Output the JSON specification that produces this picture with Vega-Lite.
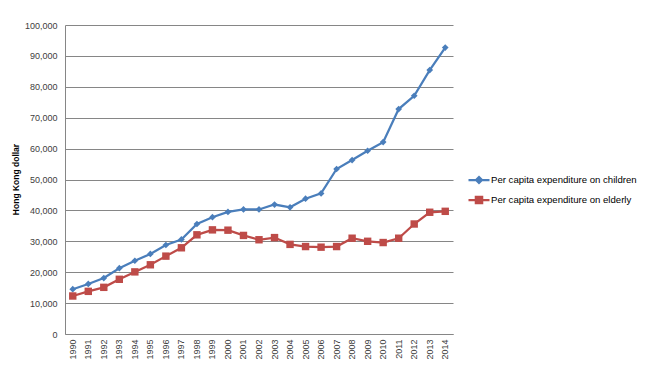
{
  "$schema": "https://vega.github.io/schema/vega-lite/v6.json",
  "autosize": "none",
  "width": 388,
  "height": 309,
  "padding": {"left": 65, "top": 25, "right": 197, "bottom": 53},
  "background": "white",
  "config": {
    "view": {"stroke": null},
    "font": "Liberation Sans"
  },
  "data": {
    "values": [
      {"year": "1990", "series": "Per capita expenditure on children", "value": 14500},
      {"year": "1991", "series": "Per capita expenditure on children", "value": 16200},
      {"year": "1992", "series": "Per capita expenditure on children", "value": 18100},
      {"year": "1993", "series": "Per capita expenditure on children", "value": 21300},
      {"year": "1994", "series": "Per capita expenditure on children", "value": 23700},
      {"year": "1995", "series": "Per capita expenditure on children", "value": 25900},
      {"year": "1996", "series": "Per capita expenditure on children", "value": 28800},
      {"year": "1997", "series": "Per capita expenditure on children", "value": 30600},
      {"year": "1998", "series": "Per capita expenditure on children", "value": 35600},
      {"year": "1999", "series": "Per capita expenditure on children", "value": 37800},
      {"year": "2000", "series": "Per capita expenditure on children", "value": 39500},
      {"year": "2001", "series": "Per capita expenditure on children", "value": 40300},
      {"year": "2002", "series": "Per capita expenditure on children", "value": 40300},
      {"year": "2003", "series": "Per capita expenditure on children", "value": 41900},
      {"year": "2004", "series": "Per capita expenditure on children", "value": 41000},
      {"year": "2005", "series": "Per capita expenditure on children", "value": 43800},
      {"year": "2006", "series": "Per capita expenditure on children", "value": 45500},
      {"year": "2007", "series": "Per capita expenditure on children", "value": 53400},
      {"year": "2008", "series": "Per capita expenditure on children", "value": 56300},
      {"year": "2009", "series": "Per capita expenditure on children", "value": 59300},
      {"year": "2010", "series": "Per capita expenditure on children", "value": 62100},
      {"year": "2011", "series": "Per capita expenditure on children", "value": 72800},
      {"year": "2012", "series": "Per capita expenditure on children", "value": 77100},
      {"year": "2013", "series": "Per capita expenditure on children", "value": 85400},
      {"year": "2014", "series": "Per capita expenditure on children", "value": 92700},
      {"year": "1990", "series": "Per capita expenditure on elderly", "value": 12300},
      {"year": "1991", "series": "Per capita expenditure on elderly", "value": 13800},
      {"year": "1992", "series": "Per capita expenditure on elderly", "value": 15100},
      {"year": "1993", "series": "Per capita expenditure on elderly", "value": 17700},
      {"year": "1994", "series": "Per capita expenditure on elderly", "value": 20100},
      {"year": "1995", "series": "Per capita expenditure on elderly", "value": 22400},
      {"year": "1996", "series": "Per capita expenditure on elderly", "value": 25200},
      {"year": "1997", "series": "Per capita expenditure on elderly", "value": 27900},
      {"year": "1998", "series": "Per capita expenditure on elderly", "value": 32100},
      {"year": "1999", "series": "Per capita expenditure on elderly", "value": 33700},
      {"year": "2000", "series": "Per capita expenditure on elderly", "value": 33600},
      {"year": "2001", "series": "Per capita expenditure on elderly", "value": 31900},
      {"year": "2002", "series": "Per capita expenditure on elderly", "value": 30500},
      {"year": "2003", "series": "Per capita expenditure on elderly", "value": 31200},
      {"year": "2004", "series": "Per capita expenditure on elderly", "value": 29000},
      {"year": "2005", "series": "Per capita expenditure on elderly", "value": 28300},
      {"year": "2006", "series": "Per capita expenditure on elderly", "value": 28100},
      {"year": "2007", "series": "Per capita expenditure on elderly", "value": 28300},
      {"year": "2008", "series": "Per capita expenditure on elderly", "value": 31000},
      {"year": "2009", "series": "Per capita expenditure on elderly", "value": 30000},
      {"year": "2010", "series": "Per capita expenditure on elderly", "value": 29600},
      {"year": "2011", "series": "Per capita expenditure on elderly", "value": 31000},
      {"year": "2012", "series": "Per capita expenditure on elderly", "value": 35600},
      {"year": "2013", "series": "Per capita expenditure on elderly", "value": 39400},
      {"year": "2014", "series": "Per capita expenditure on elderly", "value": 39700}
    ]
  },
  "encoding": {
    "x": {
      "field": "year",
      "type": "ordinal",
      "scale": {"type": "band", "paddingInner": 0, "paddingOuter": 0},
      "axis": {
        "title": null,
        "labelAngle": -90,
        "labelAlign": "right",
        "labelBaseline": "middle",
        "labelFontSize": 9,
        "labelColor": "#404040",
        "labelPadding": 5,
        "ticks": false,
        "domainColor": "#868686",
        "domainWidth": 1,
        "grid": false
      }
    },
    "y": {
      "field": "value",
      "type": "quantitative",
      "scale": {"domain": [0, 100000], "nice": false},
      "axis": {
        "title": "Hong Kong dollar",
        "titleFontSize": 8.5,
        "titleFontWeight": "bold",
        "titleColor": "#000000",
        "titleX": -47,
        "titleY": 154,
        "titleAngle": -90,
        "titleAlign": "center",
        "titleBaseline": "alphabetic",
        "values": [0, 10000, 20000, 30000, 40000, 50000, 60000, 70000, 80000, 90000, 100000],
        "format": ",d",
        "labelFontSize": 9,
        "labelColor": "#404040",
        "labelPadding": 8,
        "ticks": false,
        "domainColor": "#868686",
        "gridColor": "#868686",
        "gridWidth": 1
      }
    },
    "color": {
      "field": "series",
      "type": "nominal",
      "scale": {
        "domain": ["Per capita expenditure on children", "Per capita expenditure on elderly"],
        "range": ["#4A7EBB", "#BE4B48"]
      },
      "legend": {
        "orient": "none",
        "legendX": 402,
        "legendY": 143,
        "title": null,
        "labelFontSize": 9.6,
        "labelColor": "#000000",
        "labelOffset": 0,
        "rowPadding": -3,
        "symbolSize": 441,
        "symbolStrokeWidth": 2.25,
        "symbolType": "M-1,0H1M-0.3,-0.3H0.3V0.3H-0.3Z",
        "encode": {
          "symbols": {
            "update": {
              "shape": {"signal": "datum.index === 0 ? 'M-1,0H1M0,-0.28L0.28,0L0,0.28L-0.28,0Z' : 'M-1,0H1M-0.3,-0.3H0.3V0.3H-0.3Z'"},
              "fillOpacity": {"value": 1},
              "strokeOpacity": {"value": 1}
            }
          }
        }
      }
    }
  },
  "layer": [
    {
      "mark": {"type": "line", "strokeWidth": 2.25}
    },
    {
      "transform": [{"filter": "datum.series === 'Per capita expenditure on children'"}],
      "mark": {"type": "point", "filled": true, "opacity": 1, "shape": "diamond", "size": 45}
    },
    {
      "transform": [{"filter": "datum.series === 'Per capita expenditure on elderly'"}],
      "mark": {"type": "point", "filled": true, "opacity": 1, "shape": "square", "size": 55}
    }
  ]
}
